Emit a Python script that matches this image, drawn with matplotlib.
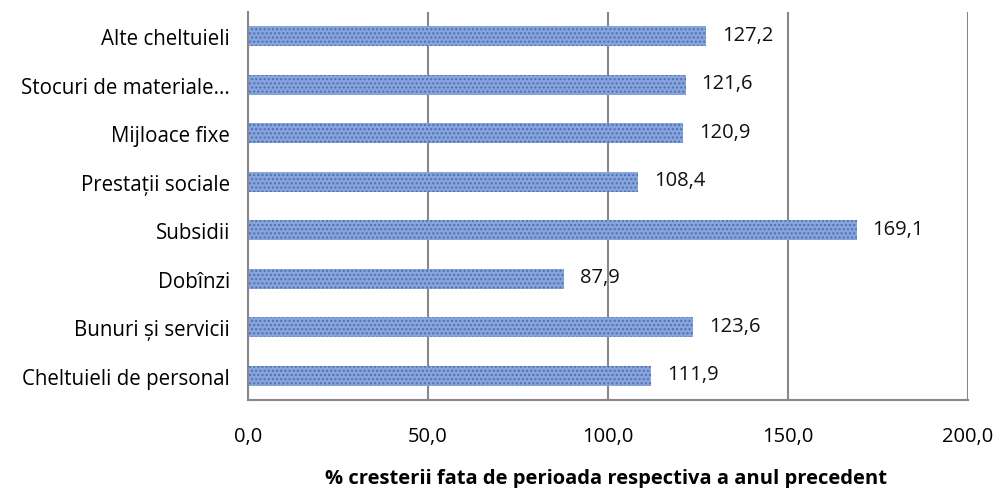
import matplotlib.pyplot as plt

categories = ["Cheltuieli de personal", "Bunuri și servicii", "Dobînzi", "Subsidii",
              "Prestații sociale", "Mijloace fixe", "Stocuri de materiale...", "Alte cheltuieli"]
values = [111.9, 123.6, 87.9, 169.1, 108.4, 120.9, 121.6, 127.2]
xticks = [0, 50, 100, 150, 200]

plt.rcParams['font.family'] = ['Open Sans', 'DejaVu Sans']

fig = plt.figure(figsize=(9.97, 4.89), dpi=100)
ax = fig.add_axes([248 / 997, 1 - 401 / 489, 720 / 997, 388 / 489])

ypos = range(len(categories))
bars = ax.barh(ypos, values, height=0.41, color="#87a5dc", linewidth=0, hatch="....")
for b in bars:
    b.set_edgecolor("#4e6fb3")

for y, v in zip(ypos, values):
    ax.text(v + 4.4, y + 0.03, f"{v:.1f}".replace(".", ","), va="center", ha="left",
            fontsize=14.5, color="#111111")

ax.set_xlim(0, 200)
ax.set_ylim(-0.5, len(categories) - 0.5)
ax.set_xticks(xticks)
ax.set_xticklabels([f"{t:.1f}".replace(".", ",") for t in xticks], fontsize=14.5)
ax.set_yticks(list(ypos))
ax.set_yticklabels(categories, fontsize=14.8)
ax.tick_params(axis="x", length=0, pad=19)
ax.tick_params(axis="y", length=0, pad=13)
ax.grid(axis="x", color="#888888", linewidth=1.5)
ax.set_axisbelow(True)
for s in ["top", "right"]:
    ax.spines[s].set_visible(False)
for s in ["left", "bottom"]:
    ax.spines[s].set_color("#888888")
    ax.spines[s].set_linewidth(1.5)

fig.text(606 / 997, 1 - 479 / 489, "% cresterii fata de perioada respectiva a anul precedent",
         ha="center", va="center", fontsize=14.5, fontweight="bold")

fig.savefig("out.png", dpi=100)
